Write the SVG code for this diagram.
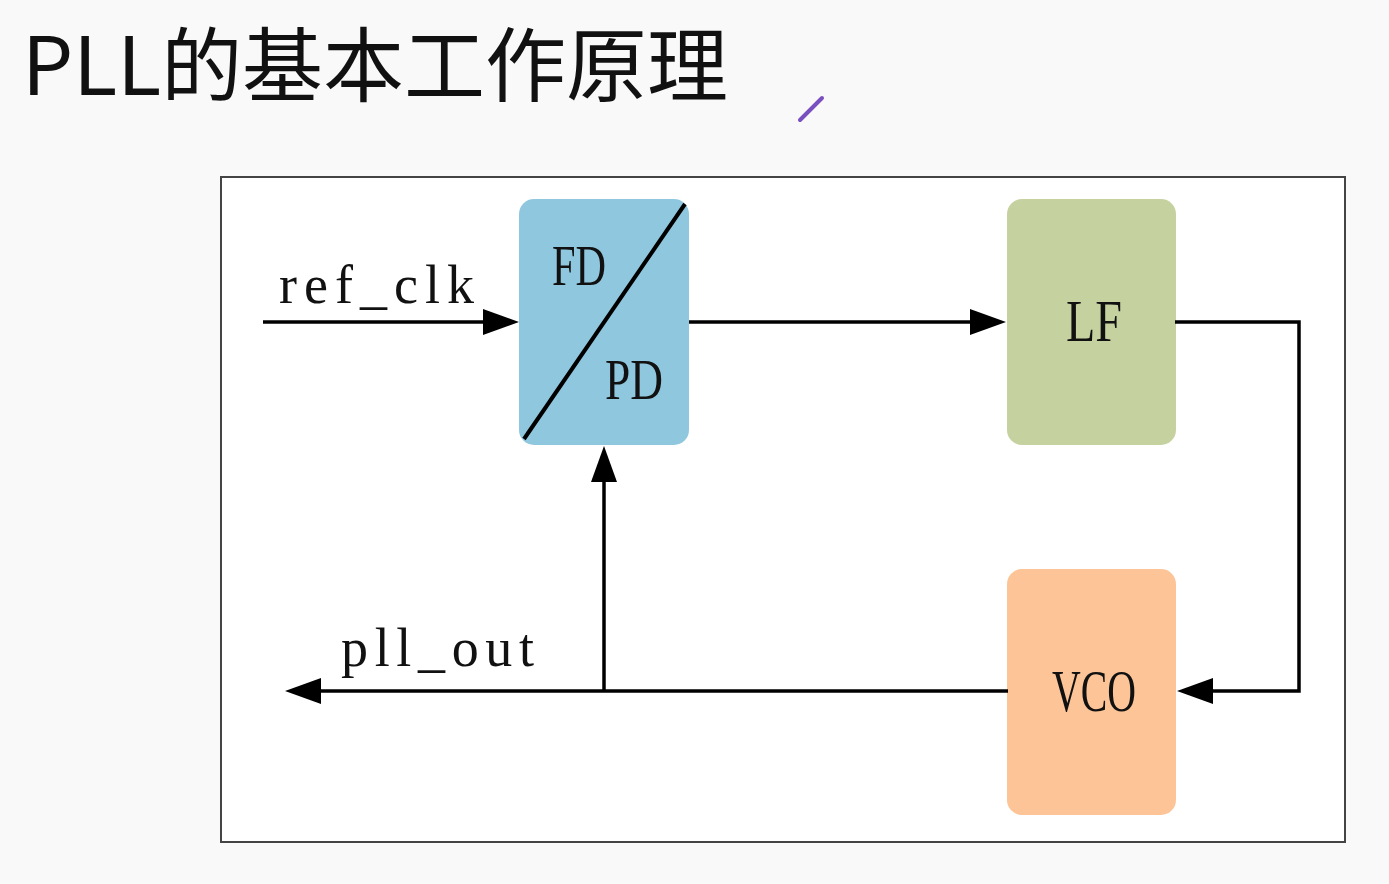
<svg xmlns="http://www.w3.org/2000/svg" width="1389" height="884" viewBox="0 0 1389 884">
  <defs>
    <style>
      .box { stroke: none; }
      .lbl { font-family: "Liberation Serif", "Times New Roman", serif; fill: #111; }
      .sig { font-family: "Liberation Serif", "Times New Roman", serif; fill: #111; }
      .wire { fill: none; stroke: #000; stroke-width: 3.5; }
      .head { fill: #000; }
    </style>
  </defs>
  <rect width="1389" height="884" fill="#f9f9f9"/>
  <g id="title">
    <text x="22" y="95" font-family="'Noto Sans CJK SC', 'Noto Sans', sans-serif" font-size="81" fill="#111" textLength="706" lengthAdjust="spacing">PLL的基本工作原理</text>
  </g>
  <g id="pen">
    <line x1="800" y1="120" x2="822" y2="98" stroke="#7a4fc0" stroke-width="4" stroke-linecap="round"/>
  </g>
  <g id="frame">
    <rect x="221" y="177" width="1124" height="665" fill="#fff" stroke="#444" stroke-width="2"/>
  </g>
  <g id="fdpd">
    <rect class="box" x="519" y="199" width="170" height="246" rx="15" fill="#8fc8de"/>
    <line x1="524" y1="439" x2="685" y2="204" stroke="#000" stroke-width="4"/>
    <text class="lbl" x="579" y="285" font-size="58" text-anchor="middle" textLength="54" lengthAdjust="spacingAndGlyphs">FD</text>
    <text class="lbl" x="634" y="399" font-size="58" text-anchor="middle" textLength="58" lengthAdjust="spacingAndGlyphs">PD</text>
  </g>
  <g id="lf">
    <rect class="box" x="1007" y="199" width="169" height="246" rx="15" fill="#c5d2a0"/>
    <text class="lbl" x="1094" y="341" font-size="60" text-anchor="middle" textLength="56" lengthAdjust="spacingAndGlyphs">LF</text>
  </g>
  <g id="vco">
    <rect class="box" x="1007" y="569" width="169" height="246" rx="15" fill="#fdc597"/>
    <text class="lbl" x="1094" y="711" font-size="60" text-anchor="middle" textLength="84" lengthAdjust="spacingAndGlyphs">VCO</text>
  </g>
  <g id="connectors">
    <line class="wire" x1="263" y1="322" x2="486" y2="322"/>
    <path class="head" d="M519,322 L483,309 L483,335 Z"/>
    <line class="wire" x1="689" y1="322" x2="973" y2="322"/>
    <path class="head" d="M1006,322 L970,309 L970,335 Z"/>
    <polyline class="wire" points="1175,322 1299,322 1299,691 1210,691"/>
    <path class="head" d="M1177,691 L1213,678 L1213,704 Z"/>
    <line class="wire" x1="1008" y1="691" x2="318" y2="691"/>
    <path class="head" d="M285,691 L321,678 L321,704 Z"/>
    <line class="wire" x1="604" y1="691" x2="604" y2="479"/>
    <path class="head" d="M604,446 L591,482 L617,482 Z"/>
  </g>
  <g id="labels">
    <text class="sig" x="279" y="303" font-size="54" textLength="195" lengthAdjust="spacing">ref_clk</text>
    <text class="sig" x="341" y="666" font-size="54" textLength="193" lengthAdjust="spacing">pll_out</text>
  </g>
</svg>
